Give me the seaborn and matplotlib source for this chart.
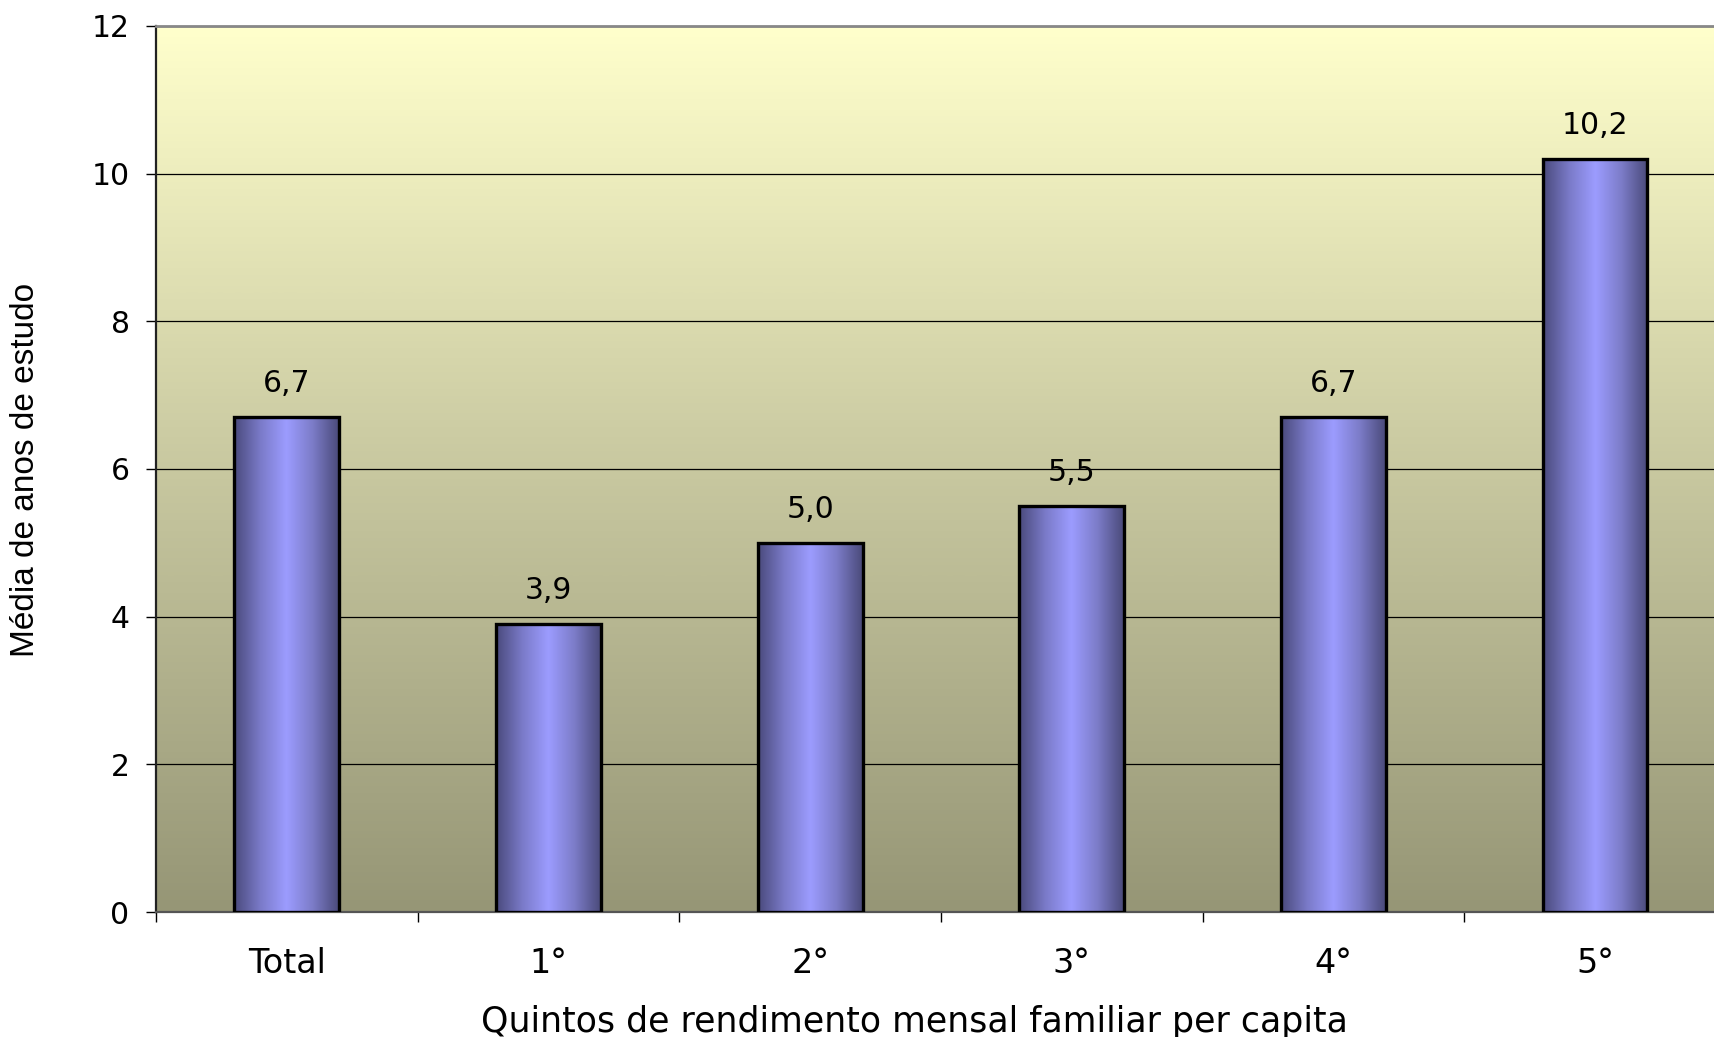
import numpy as np
import pandas as pd
import matplotlib
matplotlib.use("Agg")
import matplotlib.pyplot as plt
import seaborn as sns
from matplotlib.colors import LinearSegmentedColormap

# Média de anos de estudo por quintos de rendimento
categorias = ["Total", "1°", "2°", "3°", "4°", "5°"]
media_anos = [6.7, 3.9, 5.0, 5.5, 6.7, 10.2]
rotulos = [f"{v:.1f}".replace(".", ",") for v in media_anos]
y_ticks = [0, 2, 4, 6, 8, 10, 12]

sns.set_theme(style="white")
plt.rcParams["font.family"] = ["DejaVu Sans"]

W, H = 1715, 1037
fig = plt.figure(figsize=(W / 100, H / 100), dpi=100)
ax = fig.add_axes([156 / W, 1 - 912 / H, 1570 / W, (912 - 26) / H])

df = pd.DataFrame({"quinto": categorias, "media": media_anos})
sns.barplot(data=df, x="quinto", y="media", width=0.4, ax=ax,
            fill=False, edgecolor="black", linewidth=2.4, zorder=3)

# vertical gradient background of the plotting area
bg_cmap = LinearSegmentedColormap.from_list(
    "bg", ["#969676", "#C8C8A0", "#FFFFCC"])
grad = np.linspace(0, 1, 256).reshape(-1, 1)
ax.imshow(grad, extent=[-0.5, 5.5, 0, 12], origin="lower", aspect="auto",
          cmap=bg_cmap, zorder=0.1, interpolation="bicubic")

# cylinder-like horizontal shading inside each bar
bar_cmap = LinearSegmentedColormap.from_list(
    "bar", [(0.0, "#4A4A7C"), (0.25, "#7A7AC8"), (0.5, "#9C9CFF"),
            (0.75, "#7C7CC8"), (1.0, "#4A4A7A")])
hgrad = np.linspace(0, 1, 256).reshape(1, -1)
for patch in ax.patches:
    x0 = patch.get_x()
    w = patch.get_width()
    h = patch.get_height()
    im = ax.imshow(hgrad, extent=[x0, x0 + w, 0, h], aspect="auto",
                   cmap=bar_cmap, zorder=2.9, interpolation="bicubic")
    im.set_clip_path(patch)

for i, (v, lab) in enumerate(zip(media_anos, rotulos)):
    ax.annotate(lab, (i, v), xytext=(0, 18), textcoords="offset points",
                ha="center", va="baseline", fontsize=21.5, color="black")

ax.set_xlim(-0.5, 5.5)
ax.set_ylim(0, 12)
ax.set_yticks(y_ticks)
ax.set_axisbelow(True)
ax.yaxis.grid(True, color="black", linewidth=0.9)
ax.xaxis.grid(False)

ax.set_xticks(range(len(categorias)))
ax.set_xticklabels(categorias)
ax.set_xticks(np.arange(-0.5, len(categorias), 1.0), minor=True)
ax.tick_params(axis="x", which="major", length=0, pad=25, labelsize=24,
               colors="black")
ax.tick_params(axis="x", which="minor", bottom=True, length=7, width=1,
               color="black", direction="out")
ax.tick_params(axis="y", left=True, length=7, width=1, pad=12,
               labelsize=21.5, colors="black", direction="out")

ax.set_xlabel("")
ax.set_ylabel("")
ax.spines["left"].set_color("#222222")
ax.spines["left"].set_linewidth(1.6)
ax.spines["bottom"].set_color("#555555")
ax.spines["bottom"].set_linewidth(1.6)
ax.spines["top"].set_color("#888888")
ax.spines["top"].set_linewidth(2)
ax.spines["right"].set_visible(False)

fig.text(26 / W, 1 - 470 / H, "Média de anos de estudo", rotation=90,
         ha="center", va="center", fontsize=24, color="black",
         family=["Liberation Sans", "DejaVu Sans"])
fig.text(914 / W, 1 - 1032 / H,
         "Quintos de rendimento mensal familiar per capita",
         ha="center", va="baseline", fontsize=25, color="black")

fig.savefig("out.png", dpi=100)
